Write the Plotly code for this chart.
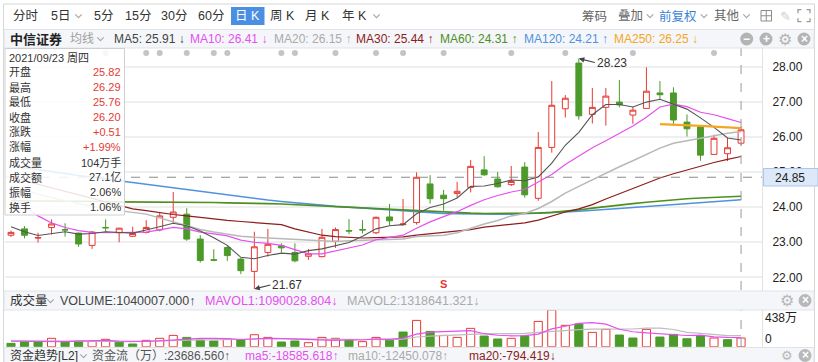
import plotly.graph_objects as go

W, H = 818, 362

# ---------------- data ----------------
idx = list(range(55))
opens = [23.20, 23.38, 23.12, 23.42, 23.36, 23.26, 22.91, 23.42, 23.27, 23.17,
         23.28, 23.35, 23.71, 23.80, 23.09, 22.50, 22.85, 22.52, 22.17, 22.71,
         22.90, 22.71, 22.60, 22.59, 23.03, 23.33, 23.36, 23.27, 23.72, 23.50,
         23.56, 24.66, 24.34, 24.39, 24.56, 25.06, 24.80, 24.64, 25.14, 24.25,
         25.70, 26.80, 28.10, 26.64, 26.84, 26.99, 26.62, 26.81, 27.25, 27.25,
         26.42, 26.29, 25.50, 25.52, 25.82]
highs = [23.33, 23.46, 23.27, 23.65, 23.54, 23.27, 23.32, 23.65, 23.41, 23.44,
         23.63, 23.84, 24.43, 23.97, 23.20, 22.80, 22.92, 22.55, 23.30, 23.38,
         22.97, 22.97, 22.81, 23.38, 23.42, 23.66, 23.63, 23.73, 24.09, 24.23,
         24.99, 24.91, 24.49, 24.72, 25.34, 25.45, 25.00, 25.17, 25.28, 26.14,
         27.59, 27.19, 28.23, 27.39, 27.39, 27.62, 26.86, 27.98, 27.59, 27.41,
         26.64, 26.33, 26.06, 25.98, 26.29]
lows = [23.15, 23.11, 22.99, 23.22, 23.16, 22.87, 22.81, 23.27, 23.00, 23.15,
        23.25, 23.31, 23.54, 23.04, 22.42, 22.46, 22.47, 22.09, 21.67, 22.59,
        22.71, 22.43, 22.50, 22.57, 22.84, 23.23, 23.25, 23.23, 23.48, 23.47,
        23.50, 24.10, 23.90, 24.27, 24.42, 24.89, 24.55, 24.60, 24.27, 24.18,
        25.55, 26.55, 26.49, 26.38, 26.32, 26.84, 26.37, 26.81, 27.07, 26.31,
        26.01, 25.32, 25.50, 25.31, 25.76]
closes = [23.28, 23.20, 23.13, 23.52, 23.35, 22.95, 23.29, 23.41, 23.40, 23.25,
          23.42, 23.75, 23.86, 23.09, 22.48, 22.49, 22.62, 22.19, 22.87, 22.94,
          22.84, 22.47, 22.67, 23.14, 23.36, 23.32, 23.35, 23.71, 23.61, 23.52,
          24.85, 24.24, 24.24, 24.45, 25.16, 24.92, 24.58, 24.73, 24.35, 25.70,
          26.90, 27.10, 26.60, 26.84, 27.16, 26.91, 26.76, 27.30, 27.20, 26.48,
          26.23, 25.48, 25.96, 25.69, 26.20]

ma5 = [23.44, 23.30, 23.19, 23.24, 23.30, 23.23, 23.25, 23.30, 23.28, 23.26,
       23.35, 23.45, 23.54, 23.47, 23.32, 23.13, 22.91, 22.57, 22.53, 22.62,
       22.69, 22.66, 22.76, 22.81, 22.90, 22.99, 23.17, 23.38, 23.47, 23.50,
       23.81, 23.99, 24.09, 24.26, 24.59, 24.60, 24.67, 24.77, 24.75, 24.86,
       25.25, 25.76, 26.13, 26.63, 26.92, 26.92, 26.85, 26.99, 27.07, 26.93,
       26.79, 26.54, 26.27, 25.97, 25.91]
ma10 = [24.30, 24.02, 23.75, 23.55, 23.42, 23.33, 23.28, 23.27, 23.27, 23.28,
        23.29, 23.35, 23.42, 23.38, 23.29, 23.24, 23.18, 23.06, 23.00, 22.97,
        22.91, 22.79, 22.67, 22.67, 22.76, 22.84, 22.92, 23.07, 23.14, 23.20,
        23.40, 23.58, 23.73, 23.87, 24.05, 24.21, 24.33, 24.43, 24.50, 24.72,
        24.93, 25.21, 25.45, 25.69, 25.89, 26.09, 26.31, 26.56, 26.85, 26.93,
        26.86, 26.70, 26.63, 26.52, 26.41]
ma20 = [24.60, 24.48, 24.37, 24.27, 24.18, 24.10, 24.02, 23.95, 23.89, 23.85,
        23.80, 23.69, 23.59, 23.47, 23.36, 23.29, 23.23, 23.17, 23.14, 23.12,
        23.10, 23.07, 23.04, 23.02, 23.02, 23.04, 23.05, 23.06, 23.07, 23.09,
        23.16, 23.18, 23.20, 23.27, 23.40, 23.52, 23.62, 23.75, 23.82, 23.96,
        24.16, 24.40, 24.59, 24.78, 24.97, 25.15, 25.32, 25.50, 25.68, 25.82,
        25.89, 25.95, 26.04, 26.10, 26.15]
ma30 = [24.85, 24.75, 24.64, 24.53, 24.43, 24.33, 24.23, 24.13, 24.03, 23.95,
        23.90, 23.84, 23.79, 23.75, 23.70, 23.66, 23.62, 23.59, 23.56, 23.53,
        23.50, 23.38, 23.28, 23.20, 23.16, 23.14, 23.12, 23.13, 23.14, 23.15,
        23.20, 23.24, 23.27, 23.30, 23.36, 23.43, 23.47, 23.52, 23.55, 23.63,
        23.75, 23.86, 23.95, 24.07, 24.23, 24.38, 24.52, 24.69, 24.83, 24.95,
        25.06, 25.16, 25.27, 25.36, 25.44]
ma60 = [24.18, 24.18, 24.17, 24.17, 24.17, 24.16, 24.16, 24.16, 24.15, 24.15,
        24.15, 24.15, 24.14, 24.14, 24.14, 24.13, 24.12, 24.12, 24.11, 24.10,
        24.09, 24.07, 24.05, 24.03, 24.01, 23.99, 23.97, 23.95, 23.93, 23.91,
        23.89, 23.87, 23.85, 23.84, 23.83, 23.82, 23.82, 23.82, 23.82, 23.83,
        23.85, 23.88, 23.92, 23.97, 24.02, 24.06, 24.10, 24.14, 24.18, 24.21,
        24.24, 24.26, 24.28, 24.30, 24.31]
ma120 = [25.18, 25.12, 25.07, 25.01, 24.96, 24.90, 24.85, 24.80, 24.75, 24.70,
         24.65, 24.60, 24.54, 24.48, 24.43, 24.38, 24.34, 24.29, 24.24, 24.20,
         24.16, 24.12, 24.09, 24.05, 24.02, 24.00, 23.98, 23.96, 23.93, 23.90,
         23.87, 23.84, 23.82, 23.81, 23.80, 23.80, 23.80, 23.80, 23.81, 23.82,
         23.84, 23.86, 23.88, 23.90, 23.93, 23.96, 23.99, 24.02, 24.05, 24.08,
         24.11, 24.14, 24.16, 24.19, 24.21]
ma250 = [None] * 48 + [26.36, 26.35, 26.33, 26.31, 26.29, 26.27, 26.25]

# volume in 万手
vols = [40, 56, 56, 100, 56, 68, 64, 88, 56, 32,
        76, 100, 135, 111, 80, 68, 92, 80, 143, 111,
        56, 68, 48, 111, 100, 80, 60, 111, 88, 175,
        314, 183, 135, 111, 219, 127, 92, 100, 127, 302,
        438, 255, 271, 171, 207, 139, 104, 207, 115, 147,
        95, 127, 104, 84, 104]
vol_up = [0, 0, 0, 1, 0, 0, 1, 1, 0, 0,
          1, 1, 1, 0, 0, 0, 1, 0, 1, 1,
          0, 0, 1, 1, 1, 0, 1, 1, 0, 0,
          1, 0, 1, 1, 1, 0, 0, 1, 0, 1,
          1, 1, 0, 1, 1, 0, 0, 1, 0, 0,
          0, 0, 1, 0, 1]
mavol1 = [65, 62, 60, 62, 61.6, 67.2, 68.8, 75.2, 66.4, 61.6,
          63.2, 70.4, 79.8, 90.8, 100.4, 98.8, 97.2, 86.2, 92.6, 98.8,
          96.4, 91.6, 85.2, 78.8, 76.6, 81.4, 79.8, 92.4, 87.8, 102.8,
          149.6, 174.2, 179.0, 183.6, 192.4, 155.0, 136.8, 129.8, 133.0, 149.6,
          211.8, 244.4, 278.6, 287.4, 268.4, 208.6, 178.4, 165.6, 154.4, 142.4,
          133.6, 138.2, 117.6, 111.4, 109.0]
mavol2 = [72, 70, 68, 68, 66, 66, 65, 64, 63, 61.6,
          65.2, 69.6, 77.5, 78.6, 81.0, 81.0, 83.8, 83.0, 91.7, 99.6,
          97.6, 94.4, 85.7, 85.7, 87.7, 88.9, 85.7, 88.8, 83.3, 89.7,
          115.5, 127.0, 135.7, 135.7, 147.6, 152.3, 155.5, 154.4, 158.3, 171.0,
          183.4, 190.6, 204.2, 210.2, 209.0, 210.2, 211.4, 222.1, 220.9, 205.4,
          171.1, 158.3, 141.6, 132.9, 131.9]

event_idx = [7, 10, 11, 13, 15, 16, 20, 21, 24, 27, 29, 32, 37, 41, 46, 52]
signal_idx = 32
cross_price = 24.85
price_ticks = [22, 23, 24, 25, 26, 27, 28]
vol_max = 438

# ---------------- styling ----------------
RED = "#e53a33"
GREEN = "#4b9a2a"
C_MA5 = "#555555"
C_MA10 = "#e64ff0"
C_MA20 = "#b8b8b8"
C_MA30 = "#8e1c1c"
C_MA60 = "#4e8f1e"
C_MA120 = "#4f93e0"
C_MA250 = "#f5a623"
FONT = "Liberation Sans, Noto Sans CJK SC, sans-serif"
BG_ROW = "#f4f6f9"
BORDER = "#dfe3e8"


def px(x):
    return x / W


def py(y):
    return 1 - y / H


fig = go.Figure()

# moving averages (main chart)
for vals, col, wd in [(ma120, C_MA120, 1.6), (ma60, C_MA60, 1.6), (ma30, C_MA30, 1.2),
                      (ma20, C_MA20, 1.5), (ma10, C_MA10, 1.2), (ma5, C_MA5, 1.1),
                      (ma250, C_MA250, 2.2)]:
    fig.add_trace(go.Scatter(x=idx, y=vals, mode="lines", line=dict(color=col, width=wd),
                             hoverinfo="skip", showlegend=False, xaxis="x", yaxis="y"))

fig.add_trace(go.Candlestick(
    x=idx, open=opens, high=highs, low=lows, close=closes,
    increasing=dict(line=dict(color=RED, width=1), fillcolor="white"),
    decreasing=dict(line=dict(color=GREEN, width=1), fillcolor=GREEN),
    whiskerwidth=0, hoverinfo="skip", showlegend=False, xaxis="x", yaxis="y"))

# event dots at top
fig.add_trace(go.Scatter(x=event_idx, y=[(290 - 53) / (290 - 48)] * len(event_idx), mode="markers",
                         marker=dict(color="#c4c4c4", size=6), hoverinfo="skip",
                         showlegend=False, xaxis="x", yaxis="y3"))

# volume
fig.add_trace(go.Bar(x=idx, y=vols, width=0.6,
                     marker=dict(color=["white" if u else GREEN for u in vol_up],
                                 line=dict(color=[RED if u else GREEN for u in vol_up], width=1)),
                     hoverinfo="skip", showlegend=False, xaxis="x2", yaxis="y2"))
fig.add_trace(go.Scatter(x=idx, y=mavol2, mode="lines", line=dict(color="#bdbdbd", width=1.2),
                         hoverinfo="skip", showlegend=False, xaxis="x2", yaxis="y2"))
fig.add_trace(go.Scatter(x=idx, y=mavol1, mode="lines", line=dict(color=C_MA10, width=1.2),
                         hoverinfo="skip", showlegend=False, xaxis="x2", yaxis="y2"))

# ---------------- shapes ----------------
shapes = []


def rect(x0, y0, x1, y1, fill, line=None, layer="above", lw=1):
    shapes.append(dict(type="rect", xref="paper", yref="paper", x0=px(x0), x1=px(x1),
                       y0=py(y1), y1=py(y0), fillcolor=fill, layer=layer,
                       line=dict(color=line or "rgba(0,0,0,0)", width=lw if line else 0)))


def hline(x0, x1, y, color, dash="solid", lw=1):
    shapes.append(dict(type="line", xref="paper", yref="paper", x0=px(x0), x1=px(x1),
                       y0=py(y), y1=py(y), line=dict(color=color, width=lw, dash=dash), layer="above"))


def vline(x, y0, y1, color, dash="solid", lw=1):
    shapes.append(dict(type="line", xref="paper", yref="paper", x0=px(x), x1=px(x),
                       y0=py(y0), y1=py(y1), line=dict(color=color, width=lw, dash=dash), layer="above"))


def chevron(xc, yc, color="#a8a8a8"):
    pts = [(xc - 3.2, yc - 1.6), (xc, yc + 1.6), (xc + 3.2, yc - 1.6)]
    path = "M {} {} L {} {} L {} {}".format(*[v for p in pts for v in (px(p[0]), py(p[1]))])
    shapes.append(dict(type="path", xref="paper", yref="paper", path=path,
                       line=dict(color=color, width=1.2), layer="above"))


def circle(xc, yc, r, fill):
    shapes.append(dict(type="circle", xref="paper", yref="paper", x0=px(xc - r), x1=px(xc + r),
                       y0=py(yc + r), y1=py(yc - r), fillcolor=fill, line=dict(width=0), layer="above"))


# crosshair
shapes.append(dict(type="line", xref="x domain", yref="y", x0=0, x1=1, y0=cross_price, y1=cross_price,
                   line=dict(color="#8a8a8a", width=1, dash="dash"), layer="above"))
shapes.append(dict(type="line", xref="x", yref="paper", x0=idx[-1], x1=idx[-1], y0=py(290), y1=py(48),
                   line=dict(color="#9a9a9a", width=1, dash="dash"), layer="above"))
shapes.append(dict(type="line", xref="x", yref="paper", x0=idx[-1], x1=idx[-1], y0=py(347), y1=py(310),
                   line=dict(color="#9a9a9a", width=1, dash="dash"), layer="above"))

# outer frame
shapes.append(dict(type="rect", xref="paper", yref="paper", x0=px(3.5), x1=px(814.5), y0=py(372), y1=py(4),
                   line=dict(color="#d6d6d6", width=1), fillcolor="rgba(0,0,0,0)", layer="above"))
# legend row
rect(4, 29.5, 814, 48, BG_ROW, BORDER)
# volume header row
rect(4, 291, 814, 310, BG_ROW, BORDER)
# footer row
rect(4, 347.5, 814, 370, BG_ROW, BORDER)
# right separator
vline(762.5, 48, 291, "#e2e2e2")
vline(762.5, 310, 347.5, "#e2e2e2")
# info panel
rect(5, 48.5, 124.5, 215, "rgba(255,255,255,0.86)", "#cfcfcf")
# price label box
rect(763.5, 168.5, 818, 186, "#dde9f8", "#a9c7ee")
# 日K highlight
rect(231, 7, 264.5, 25, "#4a8fe2", None)

chevron(78.5, 16)
chevron(376.5, 16)
chevron(650, 16)
chevron(704, 16)
chevron(746.5, 16)
chevron(100.5, 39)
chevron(50.5, 301)
chevron(83.5, 356)

# grid icon
rect(761, 10.5, 771.5, 21, "rgba(0,0,0,0)", "#8c8c8c")
hline(761, 771.5, 15.75, "#8c8c8c")
vline(766.25, 10.5, 21, "#8c8c8c")
# fullscreen icon corners
for sx, sy in [(-1, -1), (1, -1), (-1, 1), (1, 1)]:
    cx, cy = 804 + sx * 6, 15.7 + sy * 6
    path = "M {} {} L {} {} L {} {}".format(px(cx - sx * 3.5), py(cy), px(cx), py(cy), px(cx), py(cy - sy * 3.5))
    shapes.append(dict(type="path", xref="paper", yref="paper", path=path,
                       line=dict(color="#9a9a9a", width=1.3), layer="above"))

# round icons
for cx in (746.7, 766, 804):
    circle(cx, 39, 6.5, "#b4b4b4")
circle(805, 300.5, 6.5, "#b8b8b8")
circle(805, 355.5, 6.5, "#b8b8b8")

# ---------------- annotations ----------------
ann = []


def txt(x, y, s, color="#333333", size=12, anchor="left", bold=False, family=FONT):
    if bold:
        s = "<b>" + s + "</b>"
    ann.append(dict(x=px(x), y=py(y), xref="paper", yref="paper", text=s, showarrow=False,
                    xanchor=anchor, yanchor="middle", font=dict(color=color, size=size, family=family),
                    borderpad=0))


# toolbar
ty = 16
for s, xc, col in [("分时", 25.8, "#333"), ("5日", 60, "#333"), ("5分", 103.7, "#333"),
                   ("15分", 137.5, "#333"), ("30分", 174, "#333"), ("60分", 211, "#333"),
                   ("日 K", 247.7, "white"), ("周 K", 282, "#333"), ("月 K", 317, "#333"),
                   ("年 K", 354, "#333"), ("筹码", 594, "#666"), ("叠加", 630.5, "#666"),
                   ("前复权", 678.3, "#3b82d6"), ("其他", 726.7, "#666")]:
    txt(xc, ty, s, col, 12.5, "center")
txt(785, ty, "✎", "#cfcfcf", 13, "center")

# legend row
ly = 39


def arrow(a, b):
    return "↑" if a >= b else "↓"


txt(9, ly, "中信证券", "#222", 13, bold=True)
txt(69, ly, "均线", "#a0a0a0", 12)
for lab, arr, col, x0 in [("MA5", ma5, "#444", 112.5), ("MA10", ma10, C_MA10, 188.5),
                          ("MA20", ma20, "#aaaaaa", 272.5), ("MA30", ma30, C_MA30, 354.5),
                          ("MA60", ma60, C_MA60, 439.5), ("MA120", ma120, C_MA120, 522.5),
                          ("MA250", ma250, C_MA250, 612.5)]:
    txt(x0, ly, "{}: {:.2f} {}".format(lab, arr[-1], arrow(arr[-1], arr[-2])), col, 12)
for cx, s in [(746.7, "−"), (766, "+"), (804, "×")]:
    txt(cx, ly - 0.5, s, "white", 12, "center", bold=True)
txt(785, ly, "⚙", "#b4b4b4", 16, "center")

# info panel
txt(8, 57.5, "2021/09/23 周四", "#333", 11)
prev = closes[-2]
chg = closes[-1] - prev
rows = [("开盘", "{:.2f}".format(opens[-1]), RED),
        ("最高", "{:.2f}".format(highs[-1]), RED),
        ("最低", "{:.2f}".format(lows[-1]), RED),
        ("收盘", "{:.2f}".format(closes[-1]), RED),
        ("涨跌", "{:+.2f}".format(chg), RED),
        ("涨幅", "{:+.2f}%".format(chg / prev * 100), RED),
        ("成交量", "{}万手".format(vols[-1]), "#333"),
        ("成交额", "27.1亿", "#333"),
        ("振幅", "{:.2f}%".format((highs[-1] - lows[-1]) / prev * 100), "#333"),
        ("换手", "1.06%", "#333")]
for k, (lab, val, col) in enumerate(rows):
    yy = 72 + 15.0 * k
    txt(8, yy, lab, "#333", 11)
    txt(121.5, yy, val, col, 11, "right")

# price crosshair label
txt(790, 177.5, "{:.2f}".format(cross_price), "#222", 12, "center")

# high / low labels
hi_i = max(idx, key=lambda i: highs[i])
lo_i = min(idx, key=lambda i: lows[i])
for i, v, ay in [(hi_i, highs[hi_i], 4), (lo_i, lows[lo_i], -4)]:
    ann.append(dict(x=i, y=v, xref="x", yref="y", text="{:.2f}".format(v), showarrow=True,
                    ax=16, ay=ay, xanchor="left", yanchor="middle", arrowhead=2, arrowsize=1,
                    arrowwidth=1.1, arrowcolor="#444", font=dict(color="#333", size=12, family=FONT),
                    borderpad=1))
# signal marker
ann.append(dict(x=signal_idx, y=py(284), xref="x", yref="paper", text="<b>S</b>", showarrow=False,
                font=dict(color=RED, size=11, family=FONT), xanchor="center", yanchor="middle"))

# volume header
vy = 300.5
txt(9, vy, "成交量", "#333", 12.5)
txt(58.5, vy, "VOLUME:1040007.000↑", "#444", 12.5)
txt(203.5, vy, "MAVOL1:1090028.804↓", C_MA10, 12.5)
txt(346, vy, "MAVOL2:1318641.321↓", "#aaaaaa", 12.5)
txt(786.7, vy, "⚙", "#b8b8b8", 16, "center")
txt(805, vy - 0.5, "×", "white", 12, "center", bold=True)
# volume axis labels
ann.append(dict(x=px(764), y=vol_max, xref="paper", yref="y2", text="{}万".format(vol_max), showarrow=False,
                xanchor="left", yanchor="top", font=dict(color="#222", size=12, family=FONT), borderpad=0))
ann.append(dict(x=px(764), y=0, xref="paper", yref="y2", text="0", showarrow=False,
                xanchor="left", yanchor="bottom", font=dict(color="#222", size=12, family=FONT), borderpad=0))

# footer
fy = 355.5
txt(9, fy, "资金趋势[L2]", "#333", 12)
txt(91, fy, "资金流（万）:23686.560↑", "#555", 12)
txt(243.5, fy, "ma5:-18585.618↑", C_MA10, 12)
txt(346.5, fy, "ma10:-12450.078↑", "#aaaaaa", 12)
txt(467.5, fy, "ma20:-794.419↓", C_MA30, 12)
txt(786.7, fy - 0.5, "⚙", "#b8b8b8", 13, "center")
txt(805, fy - 0.5, "×", "white", 12, "center", bold=True)

# ---------------- layout ----------------
xdom = [px(5), px(762)]
xrange = [-0.444, 55.55]
fig.update_layout(
    width=W, height=H, margin=dict(l=0, r=0, t=0, b=0), autosize=False,
    paper_bgcolor="white", plot_bgcolor="rgba(0,0,0,0)",
    font=dict(family=FONT, size=12, color="#333"),
    showlegend=False, hovermode=False, boxgap=0.38,
    xaxis=dict(domain=xdom, range=xrange, showticklabels=False, showgrid=False, zeroline=False,
               showline=False, ticks="", rangeslider=dict(visible=False), anchor="y", fixedrange=True),
    xaxis2=dict(domain=xdom, range=xrange, showticklabels=False, showgrid=False, zeroline=False,
                showline=False, ticks="", anchor="y2", matches="x", fixedrange=True),
    yaxis=dict(domain=[py(290), py(48)], range=[21.64, 28.53], side="right", anchor="x",
               tickvals=price_ticks, ticktext=["{:.2f}".format(v) for v in price_ticks],
               showgrid=True, gridcolor="#efefef", gridwidth=2, zeroline=False, showline=False,
               ticks="outside", ticklen=7, tickcolor="rgba(0,0,0,0)",
               tickfont=dict(size=12, color="#222", family=FONT), fixedrange=True),
    yaxis2=dict(domain=[py(346.7), py(310)], range=[0, vol_max], anchor="x2", showticklabels=False,
                showgrid=False, zeroline=False, showline=False, ticks="", fixedrange=True),
    yaxis3=dict(overlaying="y", range=[0, 1], visible=False, anchor="x", fixedrange=True),
    shapes=shapes, annotations=ann,
)

fig.write_html("out.html")
